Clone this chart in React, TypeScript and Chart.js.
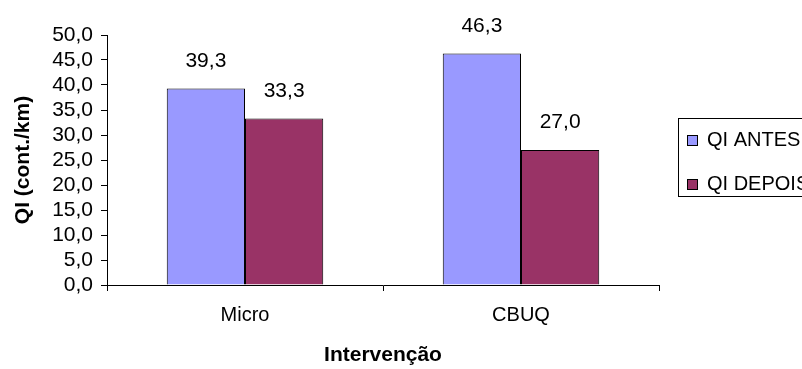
import React, { useEffect, useRef } from "react";
import { Chart, registerables } from "chart.js";

Chart.register(...registerables);

const categories = ["Micro", "CBUQ"];
const seriesNames = ["QI ANTES", "QI DEPOIS"];
const qiAntes = [39.3, 46.3];
const qiDepois = [33.3, 27.0];
const seriesColors = ["#9999FF", "#993366"];
const yMin = 0;
const yMax = 50;
const yStep = 5;
const xTitle = "Intervenção";
const yTitle = "QI (cont./km)";

const FONT = "'Liberation Sans', Arial, sans-serif";
const fmt = (v: number) => v.toFixed(1).replace(".", ",");

const valueLabels = {
  id: "valueLabels",
  afterDatasetsDraw(chart: any) {
    const ctx = chart.ctx;
    ctx.save();
    ctx.font = `21px ${FONT}`;
    ctx.fillStyle = "#000";
    ctx.textAlign = "center";
    ctx.textBaseline = "alphabetic";
    chart.data.datasets.forEach((ds: any, di: number) => {
      const meta = chart.getDatasetMeta(di);
      meta.data.forEach((bar: any, i: number) => {
        ctx.fillText(fmt(ds.data[i]), bar.x, bar.y - 22);
      });
    });
    ctx.restore();
  },
};

const boxLegend = {
  id: "boxLegend",
  afterDraw(chart: any) {
    const ctx = chart.ctx;
    const area = chart.chartArea;
    const bx = area.right + 19;
    const by = 118.5;
    const bh = 78;
    ctx.save();
    ctx.strokeStyle = "#000";
    ctx.lineWidth = 1;
    ctx.strokeRect(bx + 0.5, by, 200, bh);
    ctx.font = `20px ${FONT}`;
    ctx.textBaseline = "middle";
    ctx.textAlign = "left";
    chart.data.datasets.forEach((ds: any, i: number) => {
      const cy = 140 + i * 44;
      ctx.fillStyle = ds.backgroundColor;
      ctx.fillRect(bx + 9, cy - 5, 10, 10);
      ctx.strokeStyle = "#000";
      ctx.strokeRect(bx + 9.5, cy - 4.5, 10, 10);
      ctx.fillStyle = "#000";
      ctx.fillText(ds.label, bx + 29, cy);
    });
    ctx.restore();
  },
};

export default function App() {
  const ref = useRef<HTMLCanvasElement>(null);
  useEffect(() => {
    const chart = new Chart(ref.current!, {
      type: "bar",
      data: {
        labels: categories,
        datasets: [
          {
            label: seriesNames[0],
            data: qiAntes,
            backgroundColor: seriesColors[0],
            borderColor: "#000",
            borderWidth: 1,
          },
          {
            label: seriesNames[1],
            data: qiDepois,
            backgroundColor: seriesColors[1],
            borderColor: "#000",
            borderWidth: 1,
          },
        ],
      },
      options: {
        responsive: false,
        animation: false,
        layout: { padding: { top: 35, right: 143, left: 0, bottom: 0 } },
        datasets: { bar: { categoryPercentage: 0.567, barPercentage: 1 } },
        plugins: { legend: { display: false }, tooltip: { enabled: false } },
        scales: {
          x: {
            afterFit: (s: any) => {
              s.height = 84;
            },
            grid: {
              drawOnChartArea: false,
              drawTicks: true,
              tickLength: 6,
              color: "#000",
            },
            border: { display: true, color: "#000", width: 1 },
            ticks: {
              color: "#000",
              font: { family: FONT, size: 20 },
              padding: 12,
            },
            title: {
              display: true,
              text: xTitle,
              color: "#000",
              font: { family: FONT, size: 21, weight: "bold" },
              padding: { top: 0, bottom: 1 },
            },
          },
          y: {
            min: yMin,
            max: yMax,
            afterFit: (s: any) => {
              s.width = 107;
            },
            grid: {
              drawOnChartArea: false,
              drawTicks: true,
              tickLength: 6,
              color: "#000",
            },
            border: { display: true, color: "#000", width: 1 },
            ticks: {
              stepSize: yStep,
              autoSkip: false,
              color: "#000",
              font: { family: FONT, size: 21, lineHeight: 1 },
              padding: 8,
              callback: (v: any) => fmt(Number(v)),
            },
            title: {
              display: true,
              text: yTitle,
              color: "#000",
              font: { family: FONT, size: 21, weight: "bold" },
              padding: { top: 11, bottom: 0 },
            },
          },
        },
      },
      plugins: [valueLabels, boxLegend],
    });
    return () => chart.destroy();
  }, []);
  return (
    <div style={{ position: "fixed", left: 0, top: 0, width: 802, height: 369, background: "#fff" }}>
      <canvas ref={ref} width={802} height={369} />
    </div>
  );
}
